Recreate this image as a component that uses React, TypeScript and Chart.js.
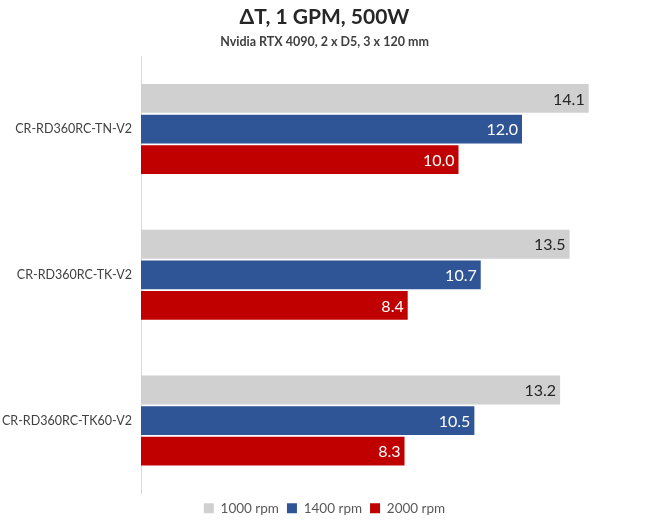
import { useEffect, useRef } from "react"
import { Chart, registerables } from "chart.js"

Chart.register(...registerables)

const radiators = ["CR-RD360RC-TN-V2", "CR-RD360RC-TK-V2", "CR-RD360RC-TK60-V2"]
const speeds = ["1000 rpm", "1400 rpm", "2000 rpm"]
const rpm1000 = [14.1, 13.5, 13.2]
const rpm1400 = [12.0, 10.7, 10.5]
const rpm2000 = [10.0, 8.4, 8.3]
const barColors = ["#d0d0d0", "#2f5597", "#c00000"]
const labelColors = ["#262626", "#ffffff", "#ffffff"]

const FONT = "Lato, 'Open Sans', sans-serif"

// scrive il valore dentro la fine di ogni barra
const valueLabels = {
  id: "valueLabels",
  afterDatasetsDraw(chart: Chart) {
    const ctx = chart.ctx
    ctx.save()
    ctx.font = `16px ${FONT}`
    ctx.textAlign = "right"
    ctx.textBaseline = "middle"
    chart.data.datasets.forEach((ds, i) => {
      const meta = chart.getDatasetMeta(i)
      meta.data.forEach((bar: any, j) => {
        const v = ds.data[j] as number
        ctx.fillStyle = labelColors[i]
        ctx.fillText(v.toFixed(1), bar.x - 4, bar.y + 1)
      })
    })
    ctx.restore()
  },
}

export default function App() {
  const chartRef = useRef<HTMLCanvasElement>(null)
  const chartInstance = useRef<Chart | null>(null)

  useEffect(() => {
    document.body.style.margin = "0"
    if (!chartRef.current) return
    if (chartInstance.current) chartInstance.current.destroy()
    const ctx = chartRef.current.getContext("2d")
    if (!ctx) return

    const series = [rpm1000, rpm1400, rpm2000]

    chartInstance.current = new Chart(ctx, {
      type: "bar",
      data: {
        labels: radiators,
        datasets: series.map((values, i) => ({
          label: speeds[i],
          data: values,
          backgroundColor: barColors[i],
          borderWidth: 0,
          categoryPercentage: 0.63,
          barPercentage: 0.94,
        })),
      },
      plugins: [valueLabels],
      options: {
        indexAxis: "y",
        animation: false,
        responsive: true,
        maintainAspectRatio: false,
        layout: { padding: { left: 0, right: 7, top: 0, bottom: 0 } },
        scales: {
          x: {
            display: false,
            min: 0,
            max: 16,
          },
          y: {
            afterFit: (axis: any) => {
              axis.width = 141
            },
            grid: { display: false, drawTicks: false },
            border: { display: true, color: "#d9d9d9", width: 1 },
            ticks: {
              color: "#404040",
              padding: 9,
              font: { family: FONT, size: 12.5 },
            },
          },
        },
        plugins: {
          title: {
            display: true,
            text: "ΔT, 1 GPM, 500W",
            color: "#262626",
            font: { family: FONT, size: 21, weight: "bold" },
            padding: { top: 5, bottom: 2 },
          },
          subtitle: {
            display: true,
            text: "Nvidia RTX 4090, 2 x D5, 3 x 120 mm",
            color: "#404040",
            font: { family: FONT, size: 12.5, weight: "bold" },
            padding: { top: 2, bottom: 7 },
          },
          legend: {
            position: "bottom",
            labels: {
              color: "#595959",
              boxWidth: 10,
              boxHeight: 10,
              padding: 8,
              font: { family: FONT, size: 13.5 },
            },
          },
          tooltip: { enabled: false },
        },
      },
    })

    return () => {
      if (chartInstance.current) chartInstance.current.destroy()
    }
  }, [])

  return (
    <div style={{ width: 656, height: 525, background: "#ffffff" }}>
      <canvas ref={chartRef} />
    </div>
  )
}
